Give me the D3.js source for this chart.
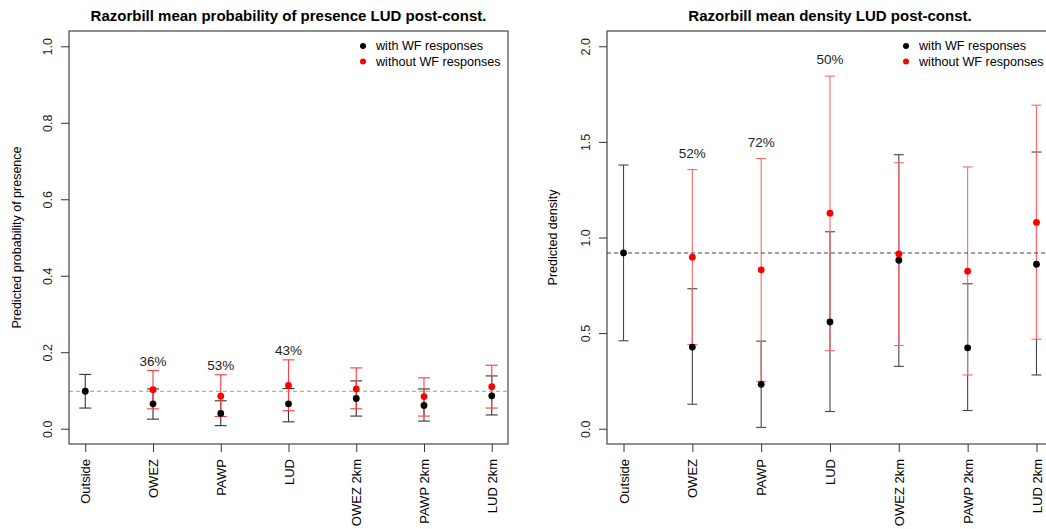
<!DOCTYPE html>
<html>
<head>
<meta charset="utf-8">
<script src="https://cdn.jsdelivr.net/npm/d3@7"></script>
<style>
  html, body { margin: 0; padding: 0; background: #fff; }
  svg { display: block; font-family: "Liberation Sans", Arial, sans-serif; }
</style>
</head>
<body>
<svg id="chart" width="1046" height="529"></svg>
<script>
// Sites compared in both panels
const categories = ["Outside", "OWEZ", "PAWP", "LUD", "OWEZ 2km", "PAWP 2km", "LUD 2km"];

// Probability of presence: model with wind-farm responses
const presWithMean = [0.098, 0.065, 0.040, 0.065, 0.079, 0.061, 0.086];
const presWithLow  = [0.054, 0.025, 0.008, 0.018, 0.033, 0.020, 0.036];
const presWithHigh = [0.142, 0.104, 0.073, 0.105, 0.125, 0.104, 0.138];
// Probability of presence: model without wind-farm responses
const presWithoutMean = [null, 0.102, 0.085, 0.113, 0.104, 0.084, 0.110];
const presWithoutLow  = [null, 0.052, 0.032, 0.047, 0.052, 0.033, 0.054];
const presWithoutHigh = [null, 0.152, 0.141, 0.180, 0.159, 0.133, 0.166];
const presPercent = [null, "36%", "53%", "43%", null, null, null];
const presReference = 0.098;
const presTicks = [0, 0.2, 0.4, 0.6, 0.8, 1.0];

// Density: model with wind-farm responses
const densWithMean = [0.919, 0.427, 0.232, 0.558, 0.881, 0.423, 0.860];
const densWithLow  = [0.460, 0.128, 0.007, 0.090, 0.326, 0.095, 0.281];
const densWithHigh = [1.379, 0.732, 0.458, 1.030, 1.433, 0.758, 1.447];
// Density: model without wind-farm responses
const densWithoutMean = [null, 0.897, 0.831, 1.127, 0.914, 0.824, 1.079];
const densWithoutLow  = [null, 0.440, 0.248, 0.408, 0.435, 0.281, 0.468];
const densWithoutHigh = [null, 1.355, 1.413, 1.844, 1.391, 1.369, 1.692];
const densPercent = [null, "52%", "72%", "50%", null, null, null];
const densReference = 0.919;
const densTicks = [0, 0.5, 1.0, 1.5, 2.0];

const legendLabels = ["with WF responses", "without WF responses"];

const svg = d3.select("#chart");

function drawPanel(cfg) {
  const g = svg.append("g");
  const { left, right, top, bottom } = cfg.box;

  const x = d3.scalePoint().domain(categories).range([left, right]).padding(0.24);
  const y = d3.scaleLinear().domain(cfg.yDomain).range([bottom, top]);

  // Title
  g.append("text")
    .attr("x", (left + right) / 2).attr("y", 21)
    .attr("text-anchor", "middle")
    .attr("font-weight", "bold").attr("font-size", 15)
    .attr("fill", "#000")
    .text(cfg.title);

  // Y axis (tick labels parallel to axis)
  const yAxis = g.append("g")
    .attr("transform", `translate(${left},0)`)
    .call(d3.axisLeft(y).tickValues(cfg.ticks).tickSize(8).tickFormat(d3.format(".1f")));
  yAxis.select(".domain").remove();
  yAxis.selectAll(".tick line").attr("stroke", "#333");
  yAxis.selectAll(".tick text")
    .attr("x", null).attr("dy", null)
    .attr("transform", "translate(-17,0) rotate(-90)")
    .attr("text-anchor", "middle")
    .attr("font-size", 12.5).attr("fill", "#222")
    .attr("font-family", null);

  g.append("text")
    .attr("transform", `translate(${cfg.yTitleX},${(top + bottom) / 2}) rotate(-90)`)
    .attr("text-anchor", "middle")
    .attr("font-size", 12.5).attr("fill", "#000")
    .text(cfg.yTitle);

  // X axis with vertical labels
  const xAxis = g.append("g")
    .attr("transform", `translate(0,${bottom})`)
    .call(d3.axisBottom(x).tickSize(8));
  xAxis.select(".domain").remove();
  xAxis.selectAll(".tick line").attr("stroke", "#333");
  xAxis.selectAll(".tick text")
    .attr("y", null).attr("dy", "0.35em")
    .attr("transform", "translate(0,15) rotate(-90)")
    .attr("text-anchor", "end")
    .attr("font-size", 13).attr("fill", "#000")
    .attr("font-family", null);

  const series = [
    { mean: cfg.withMean, low: cfg.withLow, high: cfg.withHigh, bar: cfg.blackBar, dot: "#000" },
    { mean: cfg.withoutMean, low: cfg.withoutLow, high: cfg.withoutHigh, bar: cfg.redBar, dot: "#f00" }
  ];

  // Error bars (red drawn over black)
  series.forEach(s => {
    const rows = categories.map((c, i) => ({ c, m: s.mean[i], lo: s.low[i], hi: s.high[i] }))
      .filter(d => d.m !== null);
    const eb = g.append("g").attr("stroke", s.bar).attr("stroke-width", 1.1).attr("fill", "none");
    eb.selectAll("line.v").data(rows).join("line")
      .attr("x1", d => x(d.c)).attr("x2", d => x(d.c))
      .attr("y1", d => y(d.lo)).attr("y2", d => y(d.hi));
    ["lo", "hi"].forEach(k => {
      eb.selectAll("line.cap-" + k).data(rows).join("line")
        .attr("x1", d => x(d.c) - cfg.cap).attr("x2", d => x(d.c) + cfg.cap)
        .attr("y1", d => y(d[k])).attr("y2", d => y(d[k]));
    });
  });

  // Reference level (mean outside the wind farms)
  g.append("line")
    .attr("x1", left).attr("x2", right)
    .attr("y1", y(cfg.reference)).attr("y2", y(cfg.reference))
    .attr("stroke", cfg.refColor).attr("stroke-width", 1.1)
    .attr("stroke-dasharray", "4,3");

  // Means
  series.forEach(s => {
    const rows = categories.map((c, i) => ({ c, m: s.mean[i] })).filter(d => d.m !== null);
    g.append("g").selectAll("circle").data(rows).join("circle")
      .attr("cx", d => x(d.c)).attr("cy", d => y(d.m))
      .attr("r", 3.4).attr("fill", s.dot);
  });

  // Percent labels above the upper bounds
  const pct = categories.map((c, i) => ({ c, t: cfg.percent[i], hi: cfg.withoutHigh[i] }))
    .filter(d => d.t !== null);
  g.append("g").selectAll("text").data(pct).join("text")
    .attr("x", d => x(d.c)).attr("y", d => y(d.hi) - cfg.labelGap)
    .attr("text-anchor", "middle")
    .attr("font-size", 13.5).attr("fill", "#222")
    .text(d => d.t);

  // Legend
  const lg = g.append("g").attr("transform", `translate(${cfg.legendX},46)`);
  legendLabels.forEach((t, i) => {
    lg.append("circle").attr("cx", 0).attr("cy", i * 15.5).attr("r", 3)
      .attr("fill", series[i].dot);
    lg.append("text").attr("x", 13).attr("y", i * 15.5).attr("dy", "0.35em")
      .attr("font-size", 12.6).attr("fill", "#000")
      .text(t);
  });

  // Plot frame
  g.append("rect")
    .attr("x", left).attr("y", top)
    .attr("width", right - left).attr("height", bottom - top)
    .attr("fill", "none").attr("stroke", "#333").attr("stroke-width", 1.1);
}

drawPanel({
  title: "Razorbill mean probability of presence LUD post-const.",
  yTitle: "Predicted probability of presence",
  box: { left: 69, right: 508, top: 31, bottom: 444 },
  yDomain: [-0.04, 1.04],
  ticks: presTicks,
  yTitleX: 21,
  reference: presReference, refColor: "#999",
  blackBar: "#333", redBar: "#ff3c3c",
  withMean: presWithMean, withLow: presWithLow, withHigh: presWithHigh,
  withoutMean: presWithoutMean, withoutLow: presWithoutLow, withoutHigh: presWithoutHigh,
  percent: presPercent,
  cap: 6, labelGap: 5,
  legendX: 363
});

drawPanel({
  title: "Razorbill mean density LUD post-const.",
  yTitle: "Predicted density",
  box: { left: 607, right: 1053, top: 31, bottom: 444 },
  yDomain: [-0.08, 2.08],
  ticks: densTicks,
  yTitleX: 557,
  reference: densReference, refColor: "#444",
  blackBar: "#444", redBar: "#ff6666",
  withMean: densWithMean, withLow: densWithLow, withHigh: densWithHigh,
  withoutMean: densWithoutMean, withoutLow: densWithoutLow, withoutHigh: densWithoutHigh,
  percent: densPercent,
  cap: 5, labelGap: 12,
  legendX: 906
});
</script>
</body>
</html>
